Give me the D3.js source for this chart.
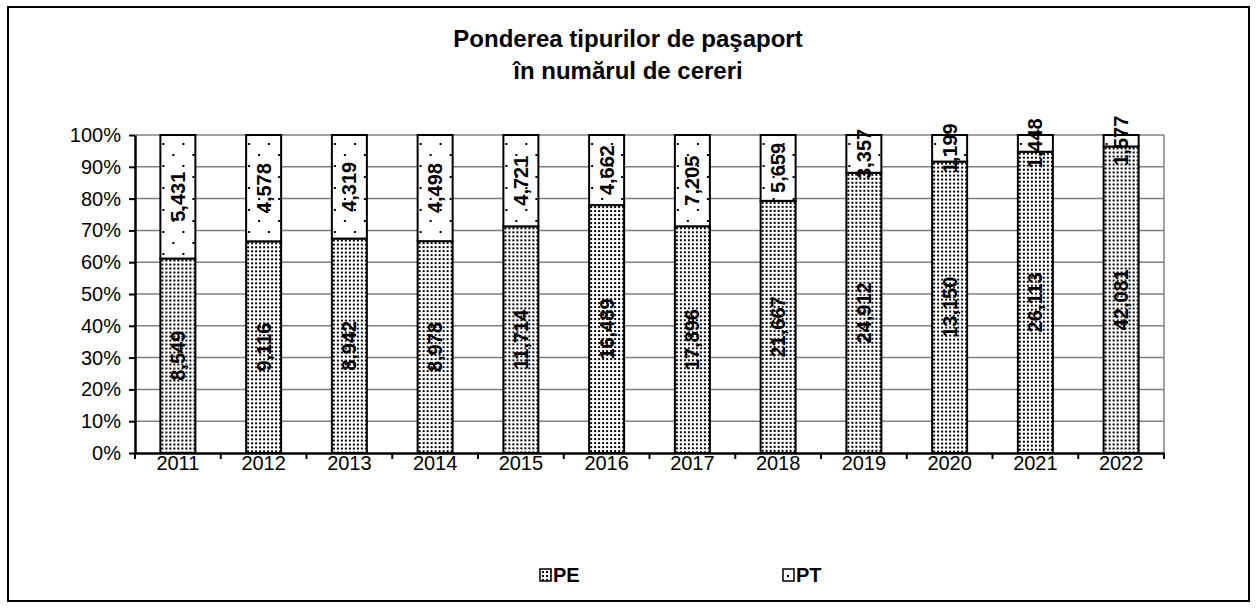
<!DOCTYPE html>
<html>
<head>
<meta charset="utf-8">
<script src="https://cdn.jsdelivr.net/npm/d3@7"></script>
<style>
  body { margin: 0; background: #fff; }
  text { font-family: Arial, "Liberation Sans", sans-serif; fill: #000; }
</style>
</head>
<body>
<div id="chart"></div>
<script>
// data
const years = ["2011", "2012", "2013", "2014", "2015", "2016", "2017", "2018", "2019", "2020", "2021", "2022"];
const peValues = [8549, 9116, 8942, 8978, 11714, 16489, 17896, 21667, 24912, 13150, 26113, 42081];
const ptValues = [5431, 4578, 4319, 4498, 4721, 4662, 7205, 5659, 3357, 1199, 1448, 1577];
const seriesNames = ["PE", "PT"];
const titleLines = ["Ponderea tipurilor de paşaport", "în numărul de cereri"];

const width = 1256, height = 608;
const plot = { left: 135, right: 1164, top: 135, bottom: 453 };
const barWidth = 35;

const svg = d3.select("#chart").append("svg")
    .attr("width", width)
    .attr("height", height);

// outer frame
svg.append("rect")
    .attr("x", 8).attr("y", 7)
    .attr("width", 1241).attr("height", 594)
    .attr("fill", "#fff")
    .attr("stroke", "#000")
    .attr("stroke-width", 2);

// title
svg.append("g").selectAll("text")
    .data(titleLines)
    .join("text")
    .attr("x", 628)
    .attr("y", (d, i) => 47 + i * 32)
    .attr("text-anchor", "middle")
    .style("font-size", "24px")
    .style("font-weight", "bold")
    .text(d => d);

const x = d3.scaleBand()
    .domain(years)
    .range([plot.left, plot.right])
    .padding(0);

const y = d3.scaleLinear()
    .domain([0, 1])
    .range([plot.bottom, plot.top]);

// stacked shares
const rows = years.map((yr, i) => {
    const total = peValues[i] + ptValues[i];
    return { year: yr, pe: peValues[i], pt: ptValues[i], peShare: peValues[i] / total };
});

// gridlines
svg.append("g").selectAll("line")
    .data(d3.range(1, 11).map(d => d / 10))
    .join("line")
    .attr("x1", plot.left).attr("x2", plot.right)
    .attr("y1", d => y(d)).attr("y2", d => y(d))
    .attr("stroke", "#808080")
    .attr("stroke-width", 1.5);

// right border of plot area
svg.append("line")
    .attr("x1", plot.right).attr("x2", plot.right)
    .attr("y1", y(1)).attr("y2", y(0))
    .attr("stroke", "#808080")
    .attr("stroke-width", 1.5);

// patterns, anchored on each bar so the dots sit like in the reference
const defs = svg.append("defs");

function addPattern(id, ox, oy, kind) {
    const p = defs.append("pattern")
        .attr("id", id)
        .attr("patternUnits", "userSpaceOnUse")
        .attr("x", ox).attr("y", oy);
    if (kind === "PE") {
        p.attr("width", 4).attr("height", 4);
        p.append("rect").attr("width", 4).attr("height", 4).attr("fill", "#fff");
        p.append("rect").attr("x", 1).attr("y", 1).attr("width", 2).attr("height", 2).attr("fill", "#000");
    } else {
        p.attr("width", 20).attr("height", 22);
        p.append("rect").attr("width", 20).attr("height", 22).attr("fill", "#fff");
        p.append("rect").attr("x", 2).attr("y", 8).attr("width", 2).attr("height", 2).attr("fill", "#000");
        p.append("rect").attr("x", 12).attr("y", 19).attr("width", 2).attr("height", 2).attr("fill", "#000");
    }
}

rows.forEach((d, i) => {
    const left = x(d.year) + (x.bandwidth() - barWidth) / 2;
    addPattern("pe-" + i, left, y(d.peShare), "PE");
    addPattern("pt-" + i, left, y(1), "PT");
});

const bars = svg.append("g").selectAll("g")
    .data(rows)
    .join("g");

bars.append("rect")
    .attr("x", d => x(d.year) + (x.bandwidth() - barWidth) / 2)
    .attr("width", barWidth)
    .attr("y", d => y(d.peShare))
    .attr("height", d => y(0) - y(d.peShare))
    .attr("fill", (d, i) => `url(#pe-${i})`)
    .attr("stroke", "#000")
    .attr("stroke-width", 2);

bars.append("rect")
    .attr("x", d => x(d.year) + (x.bandwidth() - barWidth) / 2)
    .attr("width", barWidth)
    .attr("y", y(1))
    .attr("height", d => y(d.peShare) - y(1))
    .attr("fill", (d, i) => `url(#pt-${i})`)
    .attr("stroke", "#000")
    .attr("stroke-width", 2);

// y axis
const yAxis = svg.append("g")
    .attr("transform", `translate(${plot.left},0)`)
    .call(d3.axisLeft(y).tickValues(d3.range(0, 11).map(d => d / 10)).tickFormat(d3.format(".0%")).tickSize(6).tickSizeOuter(0));
yAxis.select(".domain").attr("stroke-width", 2.5);
yAxis.selectAll(".tick line").attr("stroke-width", 2);
yAxis.selectAll("text")
    .attr("x", -14)
    .style("font-size", "20px")
    .style("font-family", "Arial, 'Liberation Sans', sans-serif")
    .attr("fill", "#000");

// x axis: labels at the centres, ticks on the category boundaries
const xAxis = svg.append("g")
    .attr("transform", `translate(0,${plot.bottom})`)
    .call(d3.axisBottom(x).tickSize(0));
xAxis.select(".domain").attr("stroke-width", 2.5);
xAxis.selectAll("text")
    .attr("y", 3)
    .style("font-size", "20px")
    .style("font-family", "Arial, 'Liberation Sans', sans-serif")
    .attr("fill", "#000");

svg.append("g").selectAll("line")
    .data(years.concat(["end"]))
    .join("line")
    .attr("x1", d => d === "end" ? plot.right : x(d))
    .attr("x2", d => d === "end" ? plot.right : x(d))
    .attr("y1", plot.bottom)
    .attr("y2", plot.bottom + 6)
    .attr("stroke", "#000")
    .attr("stroke-width", 2);

// data labels, rotated
const fmt = d3.format(",");
function addLabels(key, mid) {
    svg.append("g").selectAll("text")
        .data(rows)
        .join("text")
        .attr("transform", d => `translate(${x(d.year) + x.bandwidth() / 2},${mid(d)}) rotate(-90)`)
        .attr("text-anchor", "middle")
        .attr("dy", "0.35em")
        .style("font-size", "20px")
        .style("font-weight", "bold")
        .text(d => fmt(d[key]));
}
addLabels("pe", d => (y(0) + y(d.peShare)) / 2);
addLabels("pt", d => (y(d.peShare) + y(1)) / 2);

// legend
const legendItems = [
    { name: seriesNames[0], kind: "PE", x: 540 },
    { name: seriesNames[1], kind: "PT", x: 783 }
];
legendItems.forEach(item => {
    if (item.kind === "PT") addPattern("leg-PT", item.x + 2, 567, "PT");
    else addPattern("leg-PE", item.x + 1, 570, "PE");
    svg.append("rect")
        .attr("x", item.x).attr("y", 569)
        .attr("width", 11).attr("height", 12)
        .attr("fill", `url(#leg-${item.kind})`)
        .attr("stroke", "#000")
        .attr("stroke-width", 1.5);
    svg.append("text")
        .attr("x", item.x + 13)
        .attr("y", 582)
        .style("font-size", "20px")
        .style("font-weight", "bold")
        .text(item.name);
});
</script>
</body>
</html>
